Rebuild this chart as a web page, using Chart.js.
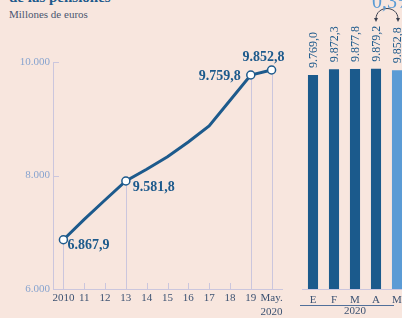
<!DOCTYPE html>
<html>
<head>
<meta charset="utf-8">
<script src="https://cdn.jsdelivr.net/npm/chart.js@4/dist/chart.umd.min.js"></script>
<style>
  body { margin: 0; background: #f8e6de; }
  #wrap { position: relative; width: 402px; height: 318px; overflow: hidden; background: #f8e6de; font-family: 'Liberation Serif', serif; }
  #title { position: absolute; left: 9px; top: -11px; margin: 0; font: bold 15px 'Liberation Serif', serif; color: #1d5a8c; white-space: nowrap; }
  #sub { position: absolute; left: 9px; top: 8px; font-size: 11px; color: #4a5670; white-space: nowrap; }
  #progress { position: absolute; left: 0; top: 0; }
  #months { position: absolute; left: 290px; top: 0; }
</style>
</head>
<body>
<div id="wrap">
  <div id="title">de las pensiones</div>
  <div id="sub">Millones de euros</div>
  <canvas id="progress" width="290" height="318"></canvas>
  <canvas id="months" width="130" height="318"></canvas>
</div>
<script>
const years = ['2010', '11', '12', '13', '14', '15', '16', '17', '18', '19', ['May.', '2020']];
const pension = [6868, 7226, 7568, 7903, 8110, 8330, 8590, 8872, 9322, 9771, 9859];
const pointLabels = ['6.867,9', '', '', '9.581,8', '', '', '', '', '', '9.759,8', '9.852,8'];
const yTicks = [6000, 8000, 10000];

const months = ['E', 'F', 'M', 'A', 'M'];
const monthValues = [9769.0, 9872.3, 9877.8, 9879.2, 9852.8];
const monthYear = '2020';
const change = '0,3%';

const blue = '#1d5a8c';
const lilac = '#cbc6dd';

function thousands(s) {
    return s.replace(/\B(?=(\d{3})+(?!\d))/g, '.');
}
function fmt(v) {
    let parts = v.toFixed(1).split('.');
    return thousands(parts[0]) + ',' + parts[1];
}

const lineExtras = {
    id: 'lineExtras',
    beforeDatasetsDraw(chart) {
        const {ctx, chartArea, scales: {y}} = chart;
        const meta = chart.getDatasetMeta(0);
        ctx.save();
        ctx.strokeStyle = lilac;
        ctx.lineWidth = 1;
        ctx.beginPath();
        meta.data.forEach((pt, i) => {
            let px = Math.round(pt.x) + 0.5;
            ctx.moveTo(px, pointLabels[i] ? pt.y : chartArea.bottom - 6);
            ctx.lineTo(px, chartArea.bottom);
        });
        yTicks.forEach(v => {
            let py = Math.round(y.getPixelForValue(v)) + 0.5;
            ctx.moveTo(chartArea.left, py);
            ctx.lineTo(chartArea.left + 6, py);
        });
        ctx.stroke();
        ctx.restore();
    },
    afterDatasetsDraw(chart) {
        const {ctx} = chart;
        const meta = chart.getDatasetMeta(0);
        // label placement next to each marked point
        const place = {
            0: [4, 6, 'left'],
            3: [7, 6, 'left'],
            9: [-10, 1, 'right'],
            10: [-8, -13, 'center']
        };
        ctx.save();
        ctx.fillStyle = blue;
        ctx.font = 'bold 14px "Liberation Serif"';
        ctx.textBaseline = 'middle';
        meta.data.forEach((pt, i) => {
            if (!pointLabels[i]) return;
            let p = place[i];
            ctx.textAlign = p[2];
            ctx.fillText(pointLabels[i], pt.x + p[0], pt.y + p[1]);
        });
        ctx.restore();
    }
};

new Chart(document.getElementById('progress'), {
    type: 'line',
    data: {
        labels: years,
        datasets: [{
            data: pension,
            borderColor: blue,
            borderWidth: 3,
            pointRadius: pointLabels.map(l => l ? 4 : 0),
            pointBackgroundColor: '#fff',
            pointBorderColor: blue,
            pointBorderWidth: 1.5,
            tension: 0,
            clip: false
        }]
    },
    options: {
        responsive: false,
        animation: false,
        layout: { padding: { top: 62, right: 8, left: 0, bottom: 0 } },
        plugins: { legend: { display: false }, tooltip: { enabled: false } },
        scales: {
            x: {
                offset: true,
                grid: { display: false, drawTicks: false },
                border: { color: lilac },
                ticks: {
                    color: '#3c5272',
                    font: { family: 'Liberation Serif', size: 11 },
                    padding: 3,
                    maxRotation: 0,
                    autoSkip: false
                },
                afterFit(s) { s.height = 29; }
            },
            y: {
                min: 6000,
                max: 10000,
                afterBuildTicks(s) { s.ticks = yTicks.map(v => ({ value: v })); },
                grid: { display: false, drawTicks: false },
                border: { color: lilac },
                ticks: {
                    color: '#88a4cf',
                    font: { family: 'Liberation Serif', size: 11 },
                    padding: 3,
                    callback: v => thousands(String(v))
                },
                afterFit(s) { s.width = 53; }
            }
        }
    },
    plugins: [lineExtras]
});

const barExtras = {
    id: 'barExtras',
    afterDatasetsDraw(chart) {
        const {ctx, scales: {x}} = chart;
        const meta = chart.getDatasetMeta(0);
        ctx.save();
        ctx.fillStyle = blue;
        ctx.font = '12px "Liberation Serif"';
        ctx.textAlign = 'left';
        ctx.textBaseline = 'middle';
        meta.data.forEach((bar, i) => {
            ctx.save();
            ctx.translate(bar.x + 0.5, bar.y - 7);
            ctx.rotate(-Math.PI / 2);
            ctx.fillText(fmt(monthValues[i]), 0, 0);
            ctx.restore();
        });

        // year underline
        ctx.strokeStyle = '#52709a';
        ctx.lineWidth = 1;
        ctx.beginPath();
        ctx.moveTo(x.getPixelForValue(0) - 13, 305.5);
        ctx.lineTo(x.getPixelForValue(months.length - 1) - 3, 305.5);
        ctx.stroke();

        // change between last two months
        let a = meta.data[months.length - 2].x;
        let b = meta.data[months.length - 1].x + 1;
        ctx.strokeStyle = '#3a4150';
        ctx.fillStyle = '#3a4150';
        ctx.beginPath();
        ctx.moveTo(a, 19);
        ctx.bezierCurveTo(a, 5, b, 5, b, 19);
        ctx.stroke();
        [a, b].forEach(px => {
            ctx.beginPath();
            ctx.moveTo(px - 2, 18);
            ctx.lineTo(px + 2, 18);
            ctx.lineTo(px, 22);
            ctx.closePath();
            ctx.fill();
        });

        ctx.fillStyle = '#5b9bd5';
        ctx.font = '20px "Liberation Serif"';
        ctx.textAlign = 'left';
        ctx.textBaseline = 'alphabetic';
        ctx.fillText(change, a - 4, 8);
        ctx.restore();
    }
};

new Chart(document.getElementById('months'), {
    type: 'bar',
    data: {
        labels: months,
        datasets: [{
            data: monthValues,
            backgroundColor: monthValues.map((v, i) => i === months.length - 1 ? '#5b9bd5' : '#1b5a8c'),
            categoryPercentage: 1,
            barPercentage: 0.48
        }]
    },
    options: {
        responsive: false,
        animation: false,
        layout: { padding: { top: 62, left: 12.5, right: 12.5, bottom: 0 } },
        plugins: { legend: { display: false }, tooltip: { enabled: false } },
        scales: {
            x: {
                grid: { display: false, drawTicks: false },
                border: { color: lilac },
                ticks: {
                    color: '#3c5272',
                    font: { family: 'Liberation Serif', size: 11 },
                    padding: 5
                },
                title: {
                    display: true,
                    text: monthYear,
                    color: '#3c5272',
                    font: { family: 'Liberation Serif', size: 11 },
                    padding: 0
                },
                afterFit(s) { s.height = 29; }
            },
            y: { display: false, min: 6000, max: 10000 }
        }
    },
    plugins: [barExtras]
});
</script>
</body>
</html>
